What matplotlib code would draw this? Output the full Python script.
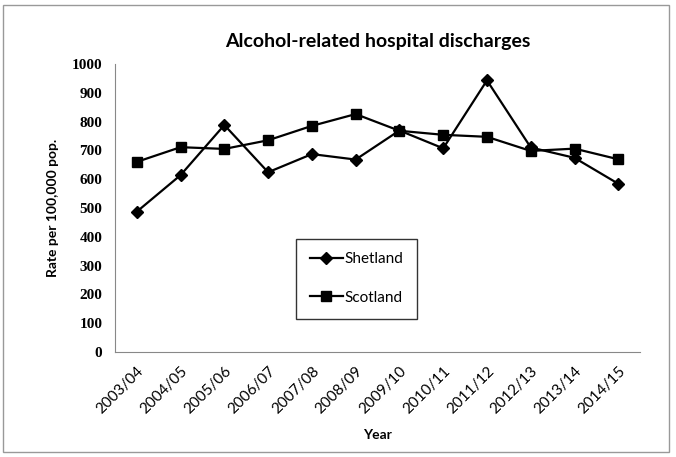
import matplotlib
matplotlib.use("Agg")
import matplotlib.pyplot as plt
import matplotlib.patches as patches

years = ["2003/04", "2004/05", "2005/06", "2006/07", "2007/08", "2008/09",
         "2009/10", "2010/11", "2011/12", "2012/13", "2013/14", "2014/15"]
shetland = [487, 614, 788, 624, 687, 668, 769, 707, 943, 710, 674, 584]
scotland = [660, 711, 705, 735, 785, 826, 768, 754, 747, 698, 706, 669]

fig = plt.figure(figsize=(6.76, 4.57), dpi=100)
ax = fig.add_axes([0.170, 0.230, 0.777, 0.630])

x = range(len(years))
ax.plot(x, shetland, color="black", marker="D", markersize=6, linewidth=1.6, label="Shetland")
ax.plot(x, scotland, color="black", marker="s", markersize=7, linewidth=1.6, label="Scotland")

ax.set_xlim(-0.5, len(years) - 0.5)
ax.set_ylim(0, 1000)
ax.set_yticks(range(0, 1001, 100))
ax.set_xticks(list(x))
ax.set_xticklabels(years, rotation=45, ha="right", rotation_mode="anchor",
                   fontsize=11, family="Lato")
for lab in ax.get_yticklabels():
    lab.set_family("Liberation Serif")
    lab.set_fontweight("bold")
    lab.set_fontsize(11)
ax.tick_params(length=0, pad=9)

ax.spines["top"].set_visible(False)
ax.spines["right"].set_visible(False)
ax.spines["left"].set_color("#888888")
ax.spines["bottom"].set_color("#888888")

ax.set_title("Alcohol-related hospital discharges", fontsize=14, family="Lato",
             fontweight="bold", pad=12)
ax.set_ylabel("Rate per 100,000 pop.", fontsize=10, family="Lato", fontweight="bold",
              labelpad=9)
ax.set_xlabel("Year", fontsize=10, family="Lato", fontweight="bold", labelpad=9)

leg = ax.legend(loc="upper left", bbox_to_anchor=(0.33, 0.42), frameon=True, fancybox=False,
                edgecolor="black", handlelength=2.2, labelspacing=1.6, borderpad=0.9,
                handletextpad=0.1, prop={"family": "Lato", "size": 11})
leg.get_frame().set_linewidth(1.0)

fig.add_artist(patches.Rectangle((0.005, 0.01), 0.985, 0.98, transform=fig.transFigure,
                                 fill=False, edgecolor="#999999", linewidth=1))

fig.savefig("out.png", dpi=100)
